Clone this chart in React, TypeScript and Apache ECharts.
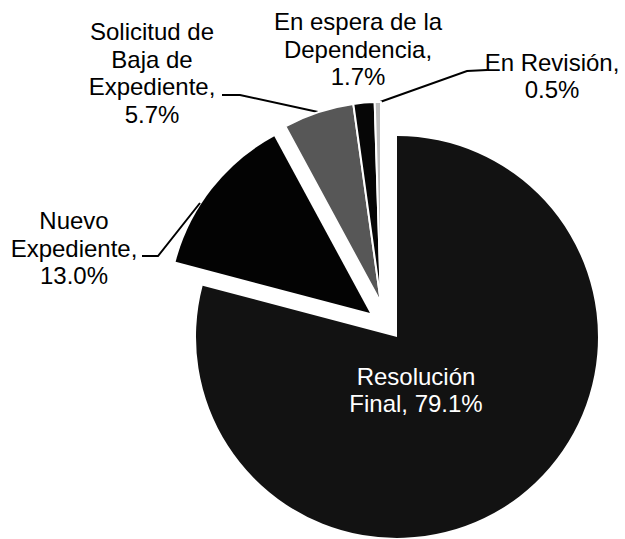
import React, { useEffect, useRef } from 'react';
import * as echarts from 'echarts';

const categories = [
  'Resolución Final',
  'Nuevo Expediente',
  'Solicitud de Baja de Expediente',
  'En espera de la Dependencia',
  'En Revisión',
];
const labelNames = [
  'Resolución\nFinal',
  'Nuevo\nExpediente',
  'Solicitud de\nBaja de\nExpediente',
  'En espera de la\nDependencia',
  'En Revisión',
];
const values = [79.1, 13.0, 5.7, 1.7, 0.5];
const colors = ['#121212', '#030303', '#575757', '#060606', '#bcbcbc'];

// layout only (exploded pieces share these vertices)
const groupOf = [0, 1, 2, 2, 2];
const groupCenters = [
  [397, 337],
  [370, 313],
  [381, 303],
];
const labelPos = [
  [416, 390],
  [74, 248],
  [152, 73],
  [358, 49],
  [552, 76],
];
const linePoints: (number[][] | null)[] = [
  null,
  [[200, 203], [158, 256], [142, 256]],
  [[318, 112], [240, 95], [222, 95]],
  null,
  [[380, 102], [467, 71], [487, 70]],
];

export default function App() {
  const ref = useRef<HTMLDivElement>(null);
  useEffect(() => {
    if (!ref.current) return;
    const chart = echarts.init(ref.current, undefined, { renderer: 'svg' });
    const series = groupCenters.map((center, g) => ({
      type: 'pie',
      center,
      radius: 201,
      startAngle: 90,
      clockwise: true,
      avoidLabelOverlap: false,
      silent: true,
      selectedMode: false,
      emphasis: { disabled: true },
      labelLayout: (p: any) => {
        const i = p.dataIndex;
        if (groupOf[i] !== g) return {};
        const o: any = {
          x: labelPos[i][0],
          y: labelPos[i][1],
          align: 'center',
          verticalAlign: 'middle',
        };
        if (linePoints[i]) o.labelLinePoints = linePoints[i];
        return o;
      },
      data: values.map((v, i) => {
        const visible = groupOf[i] === g;
        const inside = i === 0;
        return {
          name: categories[i],
          value: v,
          itemStyle: visible
            ? { color: colors[i], borderColor: '#ffffff', borderWidth: i >= 2 ? 2 : 0 }
            : { color: 'rgba(0,0,0,0)', borderWidth: 0 },
          label: {
            show: visible,
            position: inside ? 'inside' : 'outside',
            formatter: `${labelNames[i]},${i === 0 ? ' ' : '\n'}${v.toFixed(1)}%`,
            color: inside ? '#ffffff' : '#000000',
            fontFamily: '"Liberation Sans", Arial, Helvetica, sans-serif',
            fontSize: 24,
            lineHeight: 27.5,
            align: 'center',
            overflow: 'none',
          },
          labelLine: {
            show: visible && !!linePoints[i],
            smooth: false,
            lineStyle: { color: '#000000', width: 2 },
          },
        };
      }),
    }));
    chart.setOption({
      animation: false,
      backgroundColor: '#ffffff',
      series,
    } as any);
    return () => chart.dispose();
  }, []);
  return (
    <div
      ref={ref}
      style={{ position: 'absolute', left: 0, top: 0, width: 625, height: 539 }}
    />
  );
}
